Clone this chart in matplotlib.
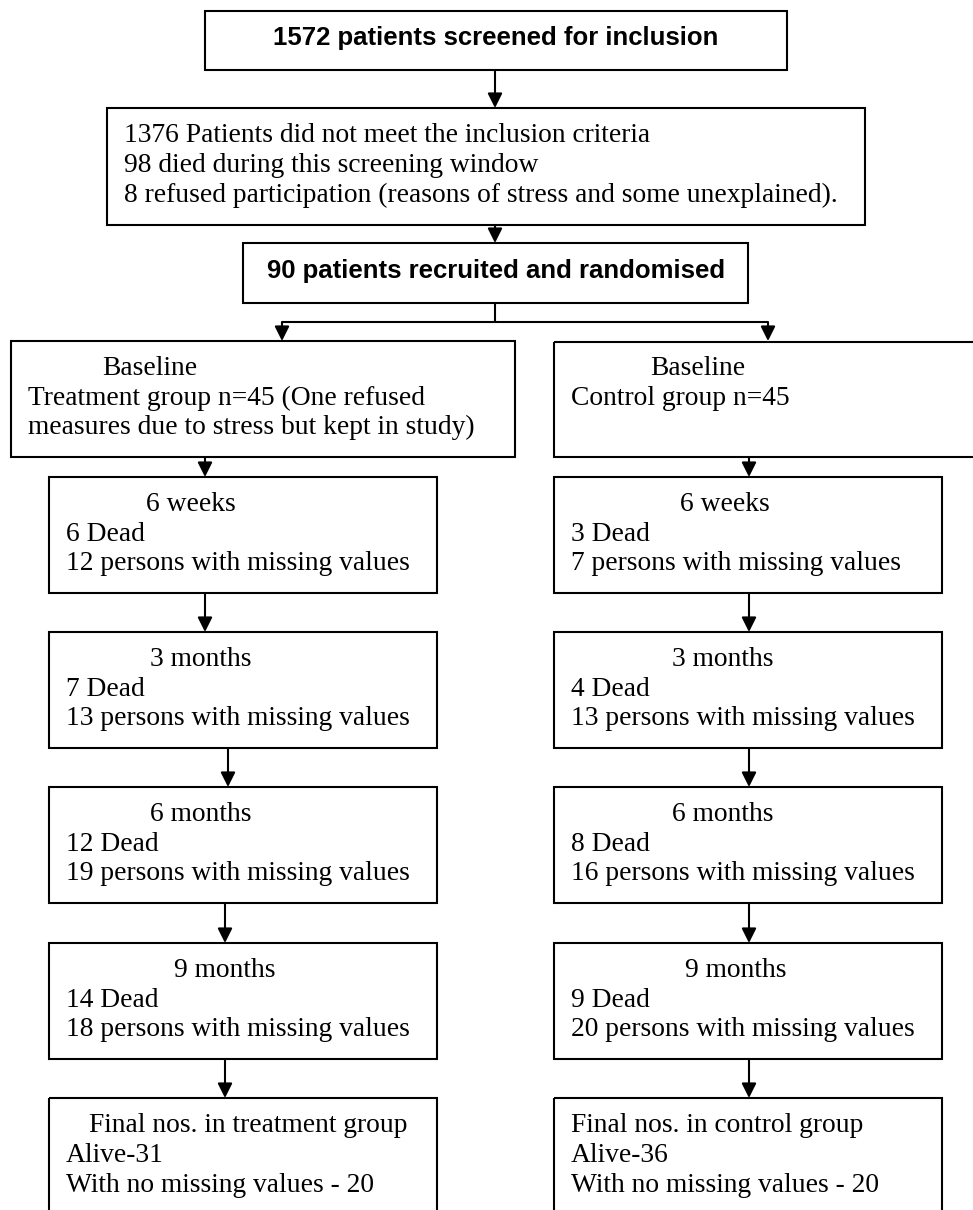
import matplotlib
matplotlib.use("Agg")
import matplotlib.pyplot as plt
from matplotlib.patches import Rectangle

# ---------------- data ----------------
screen_text = "1572 patients screened for inclusion"
exclusion_lines = [
    "1376 Patients did not meet the inclusion criteria",
    "98 died during this screening window",
    "8 refused participation (reasons of stress and some unexplained).",
]
randomised_text = "90 patients recruited and randomised"
treat_baseline = ["Baseline", "Treatment group n=45 (One refused",
                  "measures due to stress but kept in study)"]
ctrl_baseline = ["Baseline", "Control group n=45"]
timepoints = ["6 weeks", "3 months", "6 months", "9 months"]
treat_dead = [6, 7, 12, 14]
treat_missing = [12, 13, 19, 18]
ctrl_dead = [3, 4, 8, 9]
ctrl_missing = [7, 13, 16, 20]
final_titles = ["Final nos. in treatment group", "Final nos. in control group"]
final_alive = [31, 36]
final_nomissing = [20, 20]

# ---------------- layout (pixel coordinates) ----------------
W, H = 973, 1210
fig = plt.figure(figsize=(W / 100, H / 100), dpi=100)
ax = fig.add_axes([0, 0, 1, 1])
ax.set_xlim(0, W)
ax.set_ylim(H, 0)
ax.axis("off")

LW = 1.5
SERIF = ["Liberation Serif", "DejaVu Serif"]
SANS = ["Liberation Sans", "DejaVu Sans"]
FS = 19.8
FSB = 18.5


def box(x0, y0, x1, y1):
    ax.add_patch(Rectangle((x0, y0), x1 - x0, y1 - y0, fill=False,
                           edgecolor="black", lw=LW, clip_on=True))


def arrow(x, y0, y1):
    ax.annotate("", xy=(x, y1), xytext=(x, y0),
                arrowprops=dict(arrowstyle="-|>", color="black", lw=LW,
                                mutation_scale=22, shrinkA=0, shrinkB=0))


def line(xs, ys):
    ax.plot(xs, ys, color="black", lw=LW, solid_capstyle="butt")


def stext(x, y, s):
    ax.text(x, y, s, fontsize=FS, family=SERIF, va="baseline", ha="left",
            color="black")


# top box
box(205, 11, 787, 70)
ax.text(496, 45, screen_text, fontsize=FSB, family=SANS, weight="bold",
        ha="center", va="baseline")
arrow(495, 70, 108)

# exclusion box
box(107, 108, 865, 225)
for i, s in enumerate(exclusion_lines):
    stext(124, 142 + 30 * i, s)
arrow(495, 225, 243)

# randomised box
box(243, 243, 748, 303)
ax.text(496, 278, randomised_text, fontsize=FSB, family=SANS, weight="bold",
        ha="center", va="baseline")

# split
line([495, 495], [303, 322])
line([282, 768], [322, 322])
arrow(282, 322, 341)
arrow(768, 322, 341)

# baseline boxes
box(11, 341, 515, 457)
box(554, 342, 990, 457)
stext(102, 375, treat_baseline[0])
stext(28, 405, treat_baseline[1])
stext(28, 434, treat_baseline[2])
stext(650, 375, ctrl_baseline[0])
stext(571, 405, ctrl_baseline[1])

# follow-up boxes
row_tops = [477, 632, 787, 943]
left_title_x = [146, 150, 150, 174]
right_title_x = [680, 672, 672, 685]
left_arrow_x = [205, 205, 228, 225, 225]
right_arrow_x = [749, 749, 749, 749, 749]
prev_bottom = 457
for i, t in enumerate(timepoints):
    top = row_tops[i]
    bot = top + 116
    arrow(left_arrow_x[i], prev_bottom, top)
    arrow(right_arrow_x[i], prev_bottom, top)
    box(49, top, 437, bot)
    box(554, top, 942, bot)
    stext(left_title_x[i], top + 34, t)
    stext(66, top + 64, f"{treat_dead[i]} Dead")
    stext(66, top + 93, f"{treat_missing[i]} persons with missing values")
    stext(right_title_x[i], top + 34, t)
    stext(571, top + 64, f"{ctrl_dead[i]} Dead")
    stext(571, top + 93, f"{ctrl_missing[i]} persons with missing values")
    prev_bottom = bot

# final boxes
ftop = 1098
arrow(left_arrow_x[4], prev_bottom, ftop)
arrow(right_arrow_x[4], prev_bottom, ftop)
box(49, ftop, 437, 1230)
box(554, ftop, 942, 1230)
stext(89, ftop + 34, final_titles[0])
stext(66, ftop + 64, f"Alive-{final_alive[0]}")
stext(66, ftop + 94, f"With no missing values - {final_nomissing[0]}")
stext(571, ftop + 34, final_titles[1])
stext(571, ftop + 64, f"Alive-{final_alive[1]}")
stext(571, ftop + 94, f"With no missing values - {final_nomissing[1]}")

fig.savefig("out.png", dpi=100)
